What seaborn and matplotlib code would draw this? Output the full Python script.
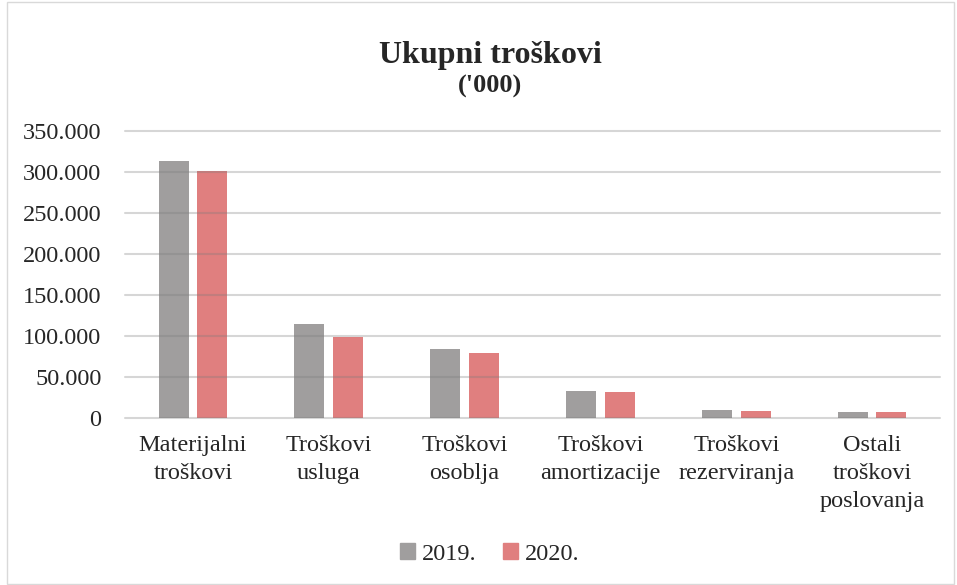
import pandas as pd
import matplotlib
matplotlib.use("Agg")
from matplotlib import pyplot as plt
from matplotlib.patches import Rectangle
from matplotlib.ticker import FuncFormatter
import seaborn as sns

categories = ["Materijalni\ntroškovi", "Troškovi\nusluga", "Troškovi\nosoblja",
              "Troškovi\namortizacije", "Troškovi\nrezerviranja", "Ostali\ntroškovi\nposlovanja"]
values_2019 = [313800, 114600, 84000, 32500, 10100, 7700]
values_2020 = [300800, 98800, 79600, 32300, 8900, 7600]
years = ["2019.", "2020."]
colors = ["#a09e9e", "#e07f7f"]

df = pd.DataFrame({
    "kategorija": categories * 2,
    "vrijednost": values_2019 + values_2020,
    "godina": [years[0]] * len(categories) + [years[1]] * len(categories),
})

sns.set_style("white")
plt.rcParams["font.family"] = ["Liberation Serif", "DejaVu Serif"]

fig = plt.figure(figsize=(9.57, 5.85), dpi=100)
ax = fig.add_axes([125 / 957, 1 - 418 / 585, 815 / 957, 287 / 585])

sns.barplot(data=df, x="kategorija", y="vrijednost", hue="godina",
            palette=colors, width=0.57, gap=0.225, ax=ax, saturation=1,
            linewidth=0, zorder=2)

ax.set_ylim(0, 350000)
ax.set_yticks(range(0, 350001, 50000))
ax.yaxis.set_major_formatter(FuncFormatter(lambda v, p: f"{int(v):,}".replace(",", ".")))
ax.grid(axis="y", color="#7a7a7a", alpha=0.3, linewidth=1.5, zorder=3)
ax.set_axisbelow(False)
for g in ax.yaxis.get_gridlines():
    g.set_clip_on(False)
sns.despine(ax=ax, left=True, top=True, right=True, bottom=True)
ax.tick_params(axis="both", length=0, labelsize=17.5, colors="#262626")
ax.tick_params(axis="y", pad=17)
ax.tick_params(axis="x", pad=12)
for t in ax.get_xticklabels():
    t.set_linespacing(1.45)
ax.set_xlabel("")
ax.set_ylabel("")

ax.get_legend().remove()
handles = [Rectangle((0, 0), 1, 1, color=c) for c in colors]
fig.legend(handles, years, loc="center", bbox_to_anchor=(0.512, 0.053), ncol=2,
           frameon=False, fontsize=17.5, handlelength=0.6, handleheight=0.6,
           handletextpad=0.3, columnspacing=1.1, labelcolor="#262626")

fig.text(0.512, 1 - 55 / 585, "Ukupni troškovi", ha="center", va="center",
         fontsize=23, fontweight="bold", color="#262626")
fig.text(0.512, 1 - 86 / 585, "('000)", ha="center", va="center",
         fontsize=19, fontweight="bold", color="#262626")

fig.patches.append(Rectangle((7 / 957, 1 / 585), 947 / 957, 582 / 585, transform=fig.transFigure,
                             fill=False, edgecolor="#d9d9d9", linewidth=1))

fig.savefig("out.png", dpi=100)
